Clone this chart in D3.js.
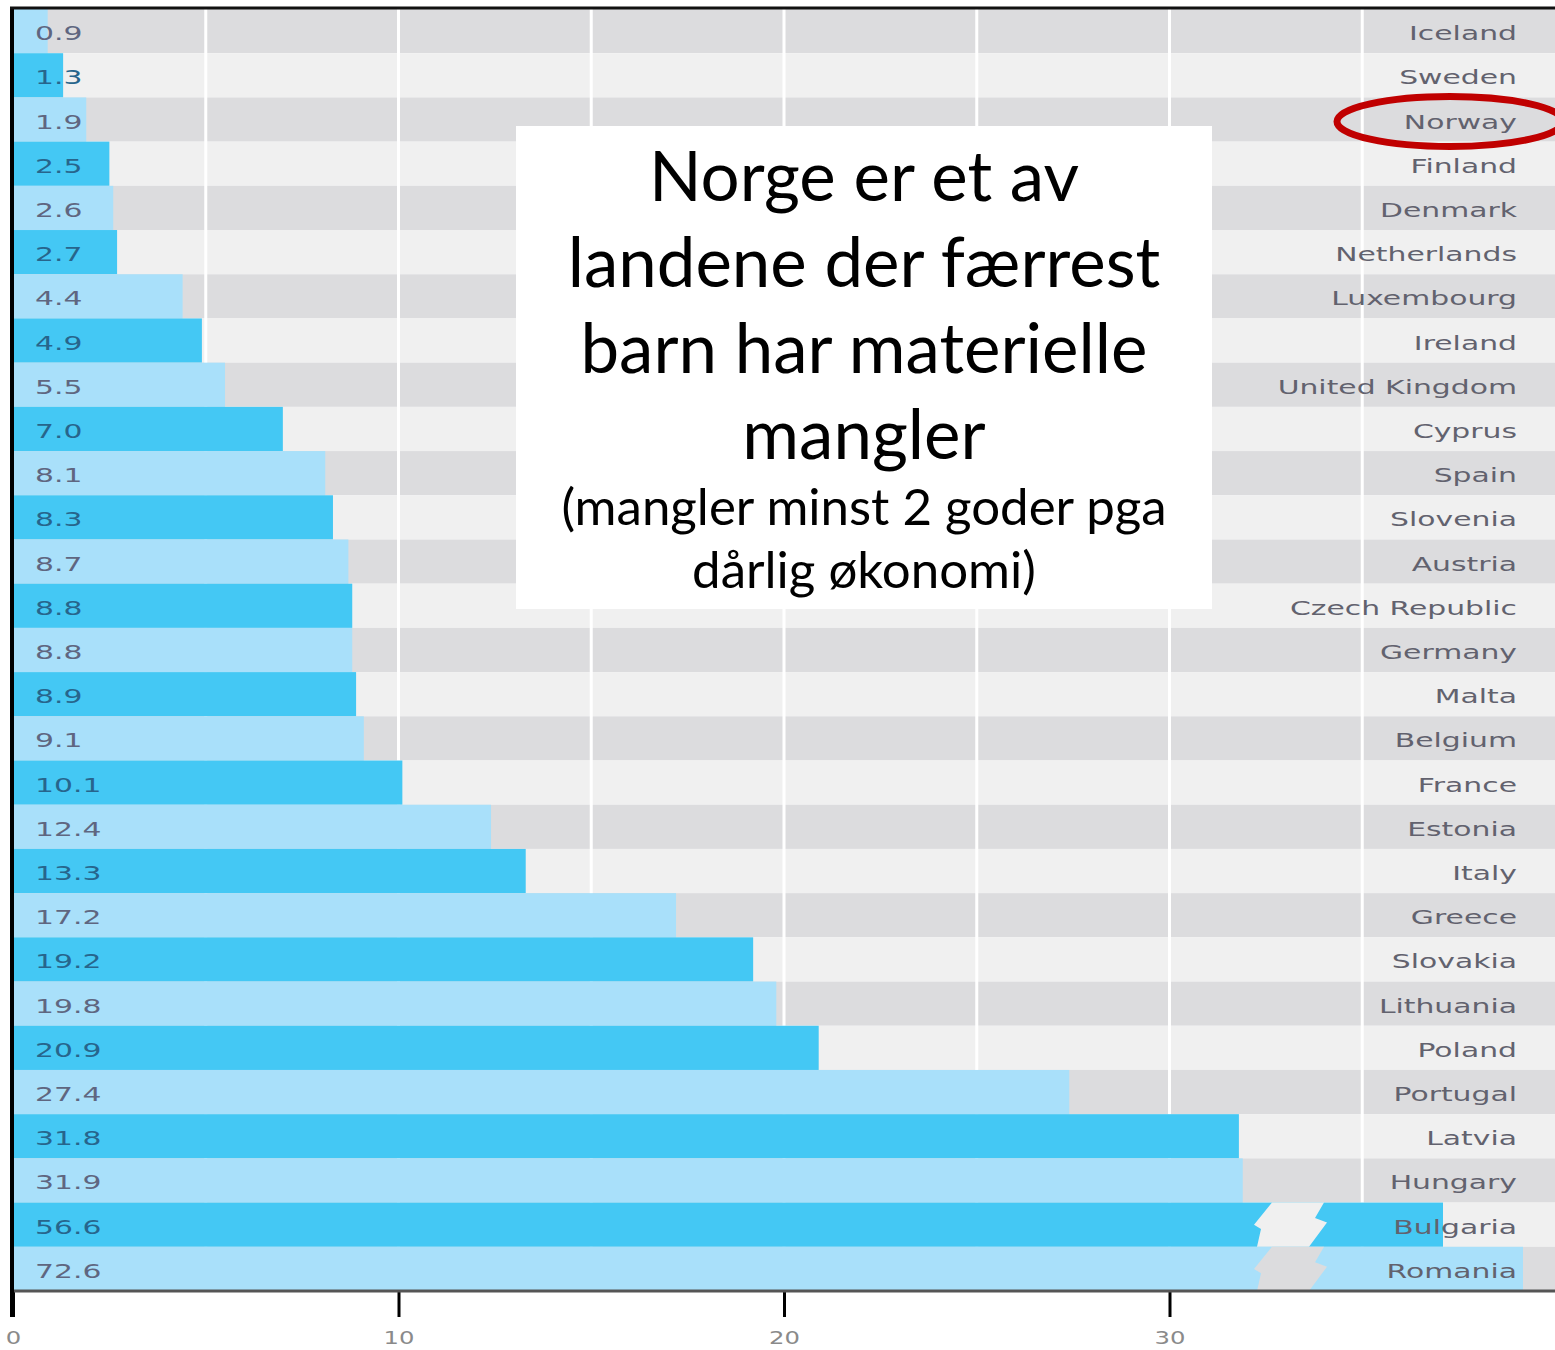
<!DOCTYPE html>
<html>
<head>
<meta charset="utf-8">
<script src="https://cdn.jsdelivr.net/npm/d3@7"></script>
<style>
  body { margin: 0; background: #fff; }
  svg { display: block; }
</style>
</head>
<body>
<svg id="chart"></svg>
<script>
// Data
const countries = ["Iceland", "Sweden", "Norway", "Finland", "Denmark", "Netherlands", "Luxembourg",
    "Ireland", "United Kingdom", "Cyprus", "Spain", "Slovenia", "Austria", "Czech Republic", "Germany",
    "Malta", "Belgium", "France", "Estonia", "Italy", "Greece", "Slovakia", "Lithuania", "Poland",
    "Portugal", "Latvia", "Hungary", "Bulgaria", "Romania"];
const values = [0.9, 1.3, 1.9, 2.5, 2.6, 2.7, 4.4, 4.9, 5.5, 7.0, 8.1, 8.3, 8.7, 8.8, 8.8, 8.9, 9.1,
    10.1, 12.4, 13.3, 17.2, 19.2, 19.8, 20.9, 27.4, 31.8, 31.9, 56.6, 72.6];
const xTicks = [0, 10, 20, 30];
const gridValues = [5, 10, 15, 20, 25, 30, 35];
const highlight = "Norway";
const titleLines = ["Norge er et av", "landene der færrest", "barn har materielle", "mangler"];
const subLines = ["(mangler minst 2 goder pga", "dårlig økonomi)"];

const data = countries.map((c, i) => ({ country: c, value: values[i] }));

// Dimensions
const W = 1555, H = 1350;
const margin = { top: 9, left: 13 };
const width = 1542;
const height = 1282;

const svg = d3.select("#chart").attr("width", W).attr("height", H);
const g = svg.append("g").attr("transform", `translate(${margin.left},${margin.top})`);

// Scales
const x = d3.scaleLinear().domain([0, 40]).range([0, width]);
// values past the break are drawn on a compressed scale
const breakAt = 35;
const xBreak = d3.scaleLinear().domain([40, 80]).range([1347, 1547]);
const barEnd = v => v > breakAt ? xBreak(v) : x(v);

const y = d3.scaleBand().domain(countries).range([0, height]).padding(0);

const rowFill = i => i % 2 === 0 ? "#dcdcde" : "#f0f0f0";
const barFill = i => i % 2 === 0 ? "#a9e0fa" : "#44c8f4";

// Row backgrounds
g.selectAll("rect.row")
    .data(data)
    .enter()
    .append("rect")
    .attr("class", "row")
    .attr("x", 0)
    .attr("y", d => y(d.country))
    .attr("width", W - margin.left)
    .attr("height", y.bandwidth())
    .attr("fill", (d, i) => rowFill(i));

// Grid lines
g.selectAll("line.grid")
    .data(gridValues)
    .enter()
    .append("line")
    .attr("x1", d => x(d))
    .attr("x2", d => x(d))
    .attr("y1", 0)
    .attr("y2", height)
    .attr("stroke", "#fff")
    .attr("stroke-width", 3);

// Bars
g.selectAll("rect.bar")
    .data(data)
    .enter()
    .append("rect")
    .attr("class", "bar")
    .attr("x", 0)
    .attr("y", d => y(d.country))
    .attr("width", d => barEnd(d.value))
    .attr("height", y.bandwidth())
    .attr("fill", (d, i) => barFill(i));

// Break marks on the long bars
const gapC = x(33.1);
const h = y.bandwidth();
g.selectAll("path.break")
    .data(data.map((d, i) => ({ ...d, i })).filter(d => d.value > breakAt))
    .enter()
    .append("path")
    .attr("d", d => {
        const t = y(d.country);
        const pts = [[-17, 0], [-35, 0.5], [-28, 0.6], [-32, 1], [20, 1], [38, 0.45], [26, 0.35], [35, 0]];
        return "M" + pts.map(p => `${gapC + p[0]},${t + p[1] * h}`).join("L") + "Z";
    })
    .attr("fill", d => rowFill(d.i));

// Value labels
const labelFont = "'DejaVu Sans', Verdana, sans-serif";
g.selectAll("text.val")
    .data(data)
    .enter()
    .append("text")
    .attr("transform", d => `translate(22,${y(d.country) + h / 2 + 9}) scale(1.57,1)`)
    .attr("font-family", labelFont)
    .attr("font-size", 19)
    .attr("fill", (d, i) => i % 2 === 0 ? "#5f6680" : "#27658c")
    .text(d => d.value.toFixed(1));

// Country labels
g.selectAll("text.country")
    .data(data)
    .enter()
    .append("text")
    .attr("transform", d => `translate(1504,${y(d.country) + h / 2 + 9}) scale(1.57,1)`)
    .attr("text-anchor", "end")
    .attr("font-family", labelFont)
    .attr("font-size", 19)
    .attr("fill", "#62626e")
    .text(d => d.country);

// Axes frame
svg.append("line")
    .attr("x1", 10).attr("x2", W).attr("y1", 8).attr("y2", 8)
    .attr("stroke", "#111").attr("stroke-width", 3);

const xAxis = d3.axisBottom(x).tickValues(xTicks).tickSize(26).tickPadding(14).tickFormat(d3.format("d"));
const axisG = g.append("g")
    .attr("transform", `translate(0,${height})`)
    .call(xAxis);
axisG.select(".domain").remove();
axisG.selectAll(".tick line").attr("stroke", "#000").attr("stroke-width", 3);
axisG.selectAll(".tick text")
    .attr("font-family", labelFont)
    .attr("font-size", 18)
    .attr("fill", "#8a8a8a")
    .attr("transform", "scale(1.35,1)");

g.append("line")
    .attr("x1", 0).attr("x2", W).attr("y1", height).attr("y2", height)
    .attr("stroke", "#555").attr("stroke-width", 3);
g.append("line")
    .attr("x1", -1).attr("x2", -1).attr("y1", -2).attr("y2", height + 26)
    .attr("stroke", "#000").attr("stroke-width", 4);

// Highlight ring
svg.append("ellipse")
    .attr("cx", 1450)
    .attr("cy", margin.top + y(highlight) + h / 2 + 2)
    .attr("rx", 113)
    .attr("ry", 25)
    .attr("fill", "none")
    .attr("stroke", "#c00000")
    .attr("stroke-width", 7);

// Annotation box
svg.append("rect")
    .attr("x", 516).attr("y", 126)
    .attr("width", 696).attr("height", 483)
    .attr("fill", "#fff");

const boxFont = "Lato, 'Noto Sans', sans-serif";
svg.selectAll("text.title")
    .data(titleLines)
    .enter()
    .append("text")
    .attr("x", 864)
    .attr("y", (d, i) => 201 + i * 86)
    .attr("text-anchor", "middle")
    .attr("font-family", boxFont)
    .attr("font-size", 69)
    .attr("fill", "#000")
    .text(d => d);

svg.selectAll("text.sub")
    .data(subLines)
    .enter()
    .append("text")
    .attr("x", 864)
    .attr("y", (d, i) => 525 + i * 63)
    .attr("text-anchor", "middle")
    .attr("font-family", boxFont)
    .attr("font-size", 51)
    .attr("fill", "#000")
    .text(d => d);
</script>
</body>
</html>
